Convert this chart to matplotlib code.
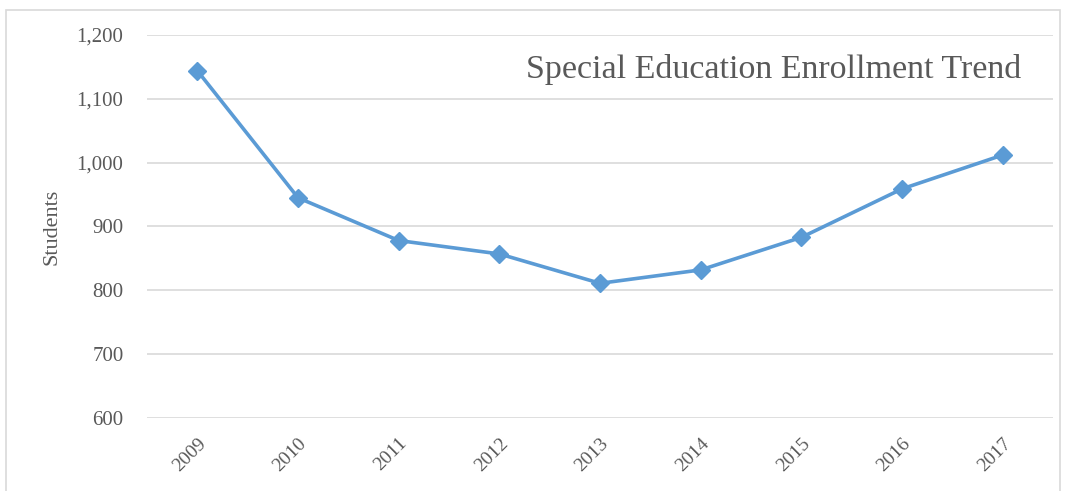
import matplotlib
matplotlib.use('Agg')
from matplotlib import pyplot as plt
from matplotlib.patches import Rectangle

# enrollment counts per school year
YEARS = ['2009', '2010', '2011', '2012', '2013', '2014', '2015', '2016', '2017']
STUDENTS = [1144, 945, 878, 857, 811, 832, 883, 959, 1012]
Y_TICKS = [600, 700, 800, 900, 1000, 1100, 1200]

GRAY = '#595959'
BLUE = '#5B9BD5'


def main():
	plt.rcParams['font.family'] = ['Liberation Serif', 'DejaVu Serif']
	fig = plt.figure(figsize=(10.67, 4.91), dpi=100)
	ax = fig.add_axes([0.1378, 0.1487, 0.8492, 0.78])

	# thin frame round the whole chart
	fig.patches.append(Rectangle((0.006, -0.05), 0.987, 1.03, transform=fig.transFigure,
		fill=False, edgecolor='#D9D9D9', linewidth=1.2))

	x = list(range(len(YEARS)))
	ax.plot(x, STUDENTS, color=BLUE, linewidth=2.6, marker='D', markersize=9,
		markerfacecolor=BLUE, markeredgecolor=BLUE, zorder=3)

	ax.set_xlim(-0.5, len(YEARS) - 0.5)
	ax.set_ylim(600, 1200)
	ax.set_yticks(Y_TICKS)
	ax.set_yticklabels(['{:,}'.format(v) for v in Y_TICKS])
	ax.set_xticks(x)
	ax.set_xticklabels(YEARS, rotation=45, ha='right', rotation_mode='anchor')

	ax.grid(axis='y', color='#D9D9D9', linewidth=1.2)
	ax.set_axisbelow(True)
	for s in ax.spines.values():
		s.set_visible(False)
	ax.tick_params(length=0, colors=GRAY, labelsize=15)
	ax.tick_params(axis='x', labelsize=14, pad=12)
	ax.tick_params(axis='y', pad=17)

	ax.set_ylabel('Students', color=GRAY, fontsize=16, labelpad=11)
	ax.text(0.965, 0.91, 'Special Education Enrollment Trend', transform=ax.transAxes,
		ha='right', va='center', fontsize=24.5, color=GRAY)

	fig.savefig('out.png', dpi=100)


if __name__ == '__main__':
	main()
